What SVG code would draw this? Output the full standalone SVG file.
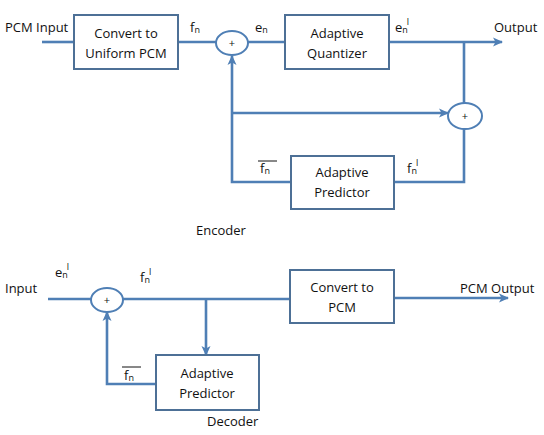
<svg xmlns="http://www.w3.org/2000/svg" width="544" height="435" viewBox="0 0 544 435">
<defs>
<marker id="arr" markerUnits="userSpaceOnUse" markerWidth="12" markerHeight="12" viewBox="0 0 12 12" refX="10" refY="6" orient="auto">
<path d="M1,1.5 L11,6 L1,10.5 L3.5,6 z" fill="#4f7fb5"/>
</marker>
</defs>
<style>
.box{fill:#fff;stroke:#4d7096;stroke-width:2}
.sum{fill:#fff;stroke:#4f7fb5;stroke-width:2}
.ln{fill:none;stroke:#4f7fb5;stroke-width:2.6}
text{font-family:"Open Sans","Liberation Sans",sans-serif;font-size:13px;fill:#111}
.c{text-anchor:middle}
.sub{font-size:9px}
.sup{font-size:9px}
.plus{font-size:11px}
.bar{stroke:#111;stroke-width:1}
</style>
<rect width="544" height="435" fill="#fff"/>
<g id="connectors">
<path class="ln" d="M42,42 H74"/>
<path class="ln" d="M178,42 H216"/>
<path class="ln" d="M248,42 H285"/>
<path class="ln" d="M389,42 H502" marker-end="url(#arr)"/>
<path class="ln" d="M464,42 V103"/>
<path class="ln" d="M232,113 H448" marker-end="url(#arr)"/>
<path class="ln" d="M291,182 H232 V56" marker-end="url(#arr)"/>
<path class="ln" d="M394,182 H464 V129"/>
<path class="ln" d="M48,299 H91"/>
<path class="ln" d="M123,299 H290"/>
<path class="ln" d="M206,299 V355" marker-end="url(#arr)"/>
<path class="ln" d="M156,384 H107 V312" marker-end="url(#arr)"/>
<path class="ln" d="M394,298 H508" marker-end="url(#arr)"/>
</g>
<g id="pcm-input"><text x="5" y="32">PCM Input</text></g>
<g id="convert-uniform">
<rect class="box" x="74" y="15" width="104" height="54"/>
<text class="c" x="126" y="38">Convert to</text>
<text class="c" x="126" y="58">Uniform PCM</text>
</g>
<g id="label-fn"><text x="190" y="32">f<tspan class="sub" dy="1">n</tspan></text></g>
<g id="sum1">
<ellipse class="sum" cx="232" cy="43" rx="16" ry="12"/>
<text class="c plus" x="232" y="47">+</text>
</g>
<g id="label-en"><text x="255" y="32">e<tspan class="sub" dy="1">n</tspan></text></g>
<g id="quantizer">
<rect class="box" x="285" y="15" width="104" height="54"/>
<text class="c" x="337" y="38">Adaptive</text>
<text class="c" x="337" y="58">Quantizer</text>
</g>
<g id="label-enq"><text x="395" y="32">e<tspan class="sub" dy="1">n</tspan><tspan class="sup" dx="-1" dy="-8">l</tspan></text></g>
<g id="output"><text x="494" y="32">Output</text></g>
<g id="sum2">
<ellipse class="sum" cx="465" cy="116" rx="17" ry="13"/>
<text class="c plus" x="465" y="120">+</text>
</g>
<g id="enc-predictor">
<rect class="box" x="291" y="156" width="103" height="53"/>
<text class="c" x="342" y="177">Adaptive</text>
<text class="c" x="342" y="197">Predictor</text>
</g>
<g id="label-fbar1"><text x="260" y="173">f<tspan class="sub" dy="1">n</tspan></text><line class="bar" x1="258" y1="161" x2="277" y2="161"/></g>
<g id="label-fq1"><text x="407" y="173">f<tspan class="sub" dy="1">n</tspan><tspan class="sup" dx="-1" dy="-8">l</tspan></text></g>
<g id="encoder-label"><text x="196" y="235">Encoder</text></g>
<g id="input"><text x="5" y="293">Input</text></g>
<g id="label-enq2"><text x="55" y="277">e<tspan class="sub" dy="1">n</tspan><tspan class="sup" dx="-1" dy="-8">l</tspan></text></g>
<g id="sum3">
<ellipse class="sum" cx="107" cy="300" rx="16" ry="12"/>
<text class="c plus" x="107" y="304">+</text>
</g>
<g id="label-fq2"><text x="140" y="282">f<tspan class="sub" dy="1">n</tspan><tspan class="sup" dx="-1" dy="-8">l</tspan></text></g>
<g id="dec-predictor">
<rect class="box" x="156" y="355" width="103" height="55"/>
<text class="c" x="207" y="378">Adaptive</text>
<text class="c" x="207" y="398">Predictor</text>
</g>
<g id="label-fbar2"><text x="124" y="380">f<tspan class="sub" dy="1">n</tspan></text><line class="bar" x1="122" y1="367" x2="141" y2="367"/></g>
<g id="decoder-label"><text x="207" y="426">Decoder</text></g>
<g id="convert-pcm">
<rect class="box" x="290" y="270" width="104" height="53"/>
<text class="c" x="342" y="292">Convert to</text>
<text class="c" x="342" y="312">PCM</text>
</g>
<g id="pcm-output"><text x="460" y="293">PCM Output</text></g>
</svg>
